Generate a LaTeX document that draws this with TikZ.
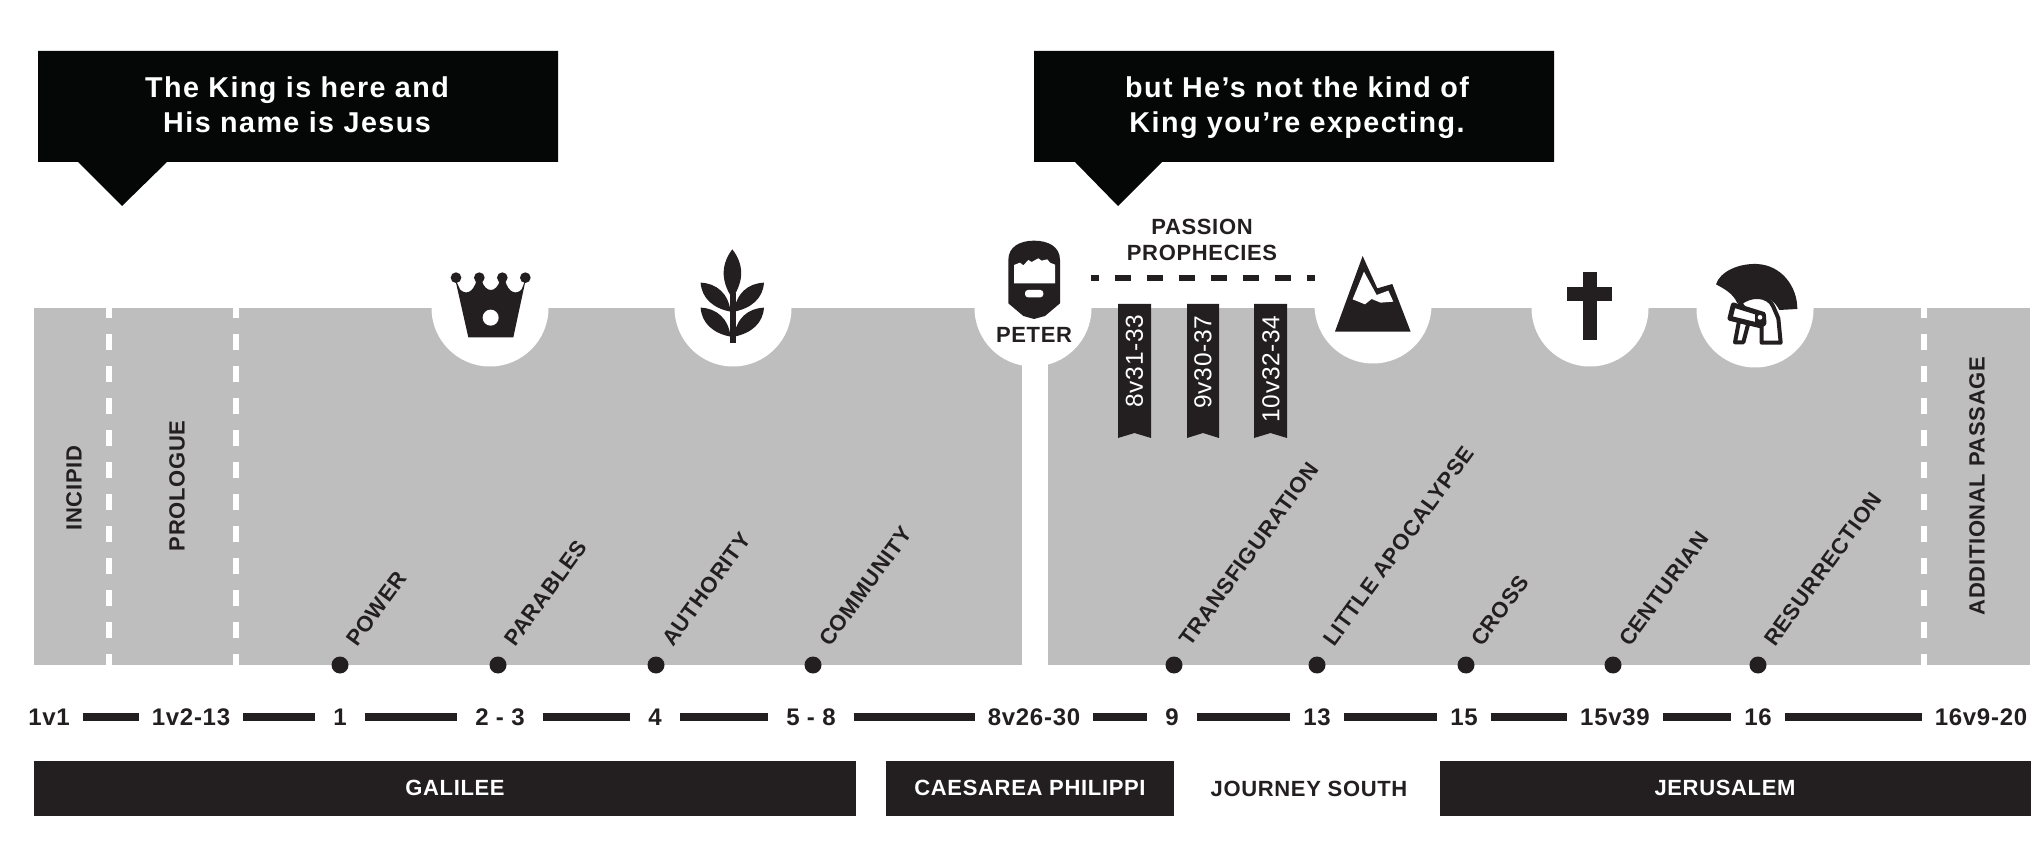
\documentclass[tikz,border=0pt]{standalone}
\usepackage{fontspec}
\setmainfont[LetterSpace=3]{Liberation Sans}
\newfontfamily\calloutfont[LetterSpace=5]{Liberation Sans}
\usepackage{tikz}
\usetikzlibrary{positioning}
\definecolor{inkBlack}{HTML}{231F20}
\definecolor{calloutBlack}{HTML}{050707}
\definecolor{bandGray}{HTML}{BEBEBE}
\newcommand{\fzCallout}{\calloutfont\fontsize{28.7}{35}\selectfont\bfseries}
\newcommand{\fzLabel}{\fontsize{22}{26}\selectfont\bfseries}
\newcommand{\fzVerse}{\fontsize{24}{28}\selectfont\bfseries}
\newcommand{\fzRibbon}{\fontsize{24.5}{28}\selectfont}
\tikzset{TLBand/.style={fill=bandGray}}
\tikzset{TLSlit/.style={draw=white,line width=6.7pt,dash pattern=on 16pt off 16pt,dash phase=6pt}}
\tikzset{TLDot/.style={circle,fill=inkBlack,minimum size=17pt,inner sep=0pt}}
\tikzset{TLDiag/.style={anchor=base west,rotate=54,inner sep=0pt,text=inkBlack,font=\fzLabel}}
\tikzset{TLUp/.style={rotate=90,inner sep=0pt,text=inkBlack,font=\fzLabel}}
\tikzset{TLVerse/.style={inner xsep=13pt,inner ysep=0pt,text=inkBlack,font=\fzVerse}}
\tikzset{TLVerseWide/.style={TLVerse,inner xsep=18pt}}
\tikzset{TLBar/.style={draw=inkBlack,line width=8.5pt}}
\tikzset{TLPlace/.style={fill=inkBlack,text=white,font=\fzLabel,minimum height=55pt,inner sep=0pt}}
\tikzset{TLCircle/.style={circle,fill=white,minimum size=117pt,inner sep=0pt}}
\tikzset{TLRibbon/.style={fill=inkBlack}}
\tikzset{TLIcon/.style={fill=inkBlack}}
\begin{document}
\begin{tikzpicture}[x=1pt,y=-1pt]
\useasboundingbox (0,0) rectangle (2040,858);
\fill [TLBand] (34,308) rectangle (1022,665);
\fill [TLBand] (1048,308) rectangle (2030,665);
\coordinate (slitAtop) at (109,308);
\coordinate (slitAbot) at (109,665);
\coordinate (slitBtop) at (236,308);
\coordinate (slitBbot) at (236,665);
\coordinate (slitCtop) at (1924,308);
\coordinate (slitCbot) at (1924,665);
\draw [TLSlit] (slitAtop) -- (slitAbot);
\draw [TLSlit] (slitBtop) -- (slitBbot);
\draw [TLSlit] (slitCtop) -- (slitCbot);
\node (crownbg) at (490,308) [TLCircle] {};
\node (plantbg) at (733,308) [TLCircle] {};
\node (peterbg) at (1033,308) [TLCircle] {};
\node (mountbg) at (1373,305) [TLCircle] {};
\node (crossbg) at (1590,308) [TLCircle] {};
\node (helmbg) at (1755,309) [TLCircle] {};
\fill [white] (1022,340) rectangle (1048,400);
\fill [calloutBlack] (38,51) -- (558,51) -- (558,162) -- (167,162) -- (122,206) -- (78,162) -- (38,162) -- cycle;
\fill [calloutBlack] (1034,51) -- (1554,51) -- (1554,162) -- (1162,162) -- (1118,206) -- (1075,162) -- (1034,162) -- cycle;
\node (king) at (297,105) [text=white,align=center,inner sep=0pt,font=\fzCallout] {The King is here and\\His name is Jesus};
\node (notking) at (1297,107.5) [text=white,align=center,inner sep=0pt,font=\fzCallout] {but He’s not the kind of\\King you’re expecting.};
\begin{scope}[shift={(400,230)},scale=0.3333]
\fill [TLIcon] (205,322) -- (165,145) -- (180,178) .. controls (195,195) and (220,190) .. (230,150) -- (245,150) .. controls (255,190) and (290,190) .. (300,150) -- (315,150) .. controls (325,190) and (350,195) .. (365,178) -- (378,145) -- (340,322) -- cycle;
\fill [TLIcon] (168,143) circle (16);
\fill [TLIcon] (238,143) circle (16);
\fill [TLIcon] (307,143) circle (16);
\fill [TLIcon] (376,143) circle (16);
\fill [white] (272,263) circle (24);
\fill [TLIcon] (990,190) rectangle (1007,338);
\fill [TLIcon] (997,58) .. controls (1030,100) and (1035,150) .. (997,205) .. controls (960,150) and (965,100) .. (997,58);
\fill [TLIcon] (902,158) .. controls (950,160) and (985,190) .. (992,245) .. controls (940,235) and (905,205) .. (902,158);
\fill [TLIcon] (1092,158) .. controls (1044,160) and (1009,190) .. (1002,245) .. controls (1054,235) and (1089,205) .. (1092,158);
\fill [TLIcon] (902,233) .. controls (950,235) and (985,265) .. (992,320) .. controls (940,310) and (905,280) .. (902,233);
\fill [TLIcon] (1092,233) .. controls (1044,235) and (1009,265) .. (1002,320) .. controls (1054,310) and (1089,280) .. (1092,233);
\end{scope}
\begin{scope}[shift={(960,190)},scale=0.3333]
\fill [TLIcon] (145,210) .. controls (145,170) and (180,152) .. (222,152) .. controls (265,152) and (300,170) .. (300,210) -- (300,340) -- (255,378) -- (222,387) -- (190,378) -- (145,340) -- cycle;
\fill [white] (162,280) -- (162,225) -- (180,218) -- (190,226) -- (205,210) -- (215,216) -- (235,205) -- (245,212) -- (262,208) -- (270,218) -- (285,224) -- (285,280) -- cycle;
\fill [white,rounded corners=3pt] (195,300) rectangle (250,322);
\fill [TLIcon] (1208,198) -- (1252,295) -- (1297,282) -- (1352,425) -- (1125,425) -- cycle;
\fill [white] (1212,245) -- (1250,315) -- (1285,302) -- (1300,335) -- (1262,338) -- (1235,327) -- (1215,343) -- (1178,328) -- cycle;
\end{scope}
\fill [TLIcon] (1583,272) rectangle (1597,340);
\fill [TLIcon] (1567,287) rectangle (1612,301);
\begin{scope}[shift={(1690,255)},scale=0.3333]
\fill [TLIcon] (78,88) .. controls (90,50) and (145,25) .. (200,27) .. controls (275,30) and (322,95) .. (322,162) -- (268,165) .. controls (255,140) and (235,125) .. (205,122) .. controls (180,120) and (160,130) .. (142,145) .. controls (130,115) and (100,100) .. (78,88) -- cycle;
\draw [draw=inkBlack,line width=4pt,fill=white,line join=round] (150,145) .. controls (180,118) and (235,118) .. (250,155) -- (265,190) -- (272,263) -- (215,263) -- (215,210) -- (195,195) -- cycle;
\draw [draw=inkBlack,line width=4pt,fill=white,line join=round] (147,198) -- (175,205) -- (160,262) -- (135,262) -- cycle;
\draw [draw=inkBlack,line width=5pt,fill=white,line join=round] (130,150) -- (220,178) -- (222,205) -- (210,212) -- (120,190) -- cycle;
\fill [TLIcon] (195,170) rectangle (225,207);
\fill [white] (210,187) circle (7);
\end{scope}
\node (peter) at (1034,335) [inner sep=0pt,text=inkBlack,font=\fzLabel] {PETER};
\node (passion) at (1202,240) [inner sep=0pt,text=inkBlack,font=\fzLabel,align=center] {PASSION\\PROPHECIES};
\coordinate (dashL) at (1091,278);
\coordinate (dashR) at (1315,278);
\draw [draw=inkBlack,line width=6pt,dash pattern=on 16pt off 16pt,dash phase=8pt] (dashL) -- (dashR);
\fill [TLRibbon] (1118,304) -- (1151,304) -- (1151,438) -- (1134.5,433) -- (1118,438) -- cycle;
\fill [TLRibbon] (1187,304) -- (1219,304) -- (1219,438) -- (1203,433) -- (1187,438) -- cycle;
\fill [TLRibbon] (1254,304) -- (1287,304) -- (1287,438) -- (1270.5,433) -- (1254,438) -- cycle;
\node (prophA) at (1134.5,361) [rotate=90,text=white,inner sep=0pt,font=\fzRibbon] {8v31-33};
\node (prophB) at (1203,362) [rotate=90,text=white,inner sep=0pt,font=\fzRibbon] {9v30-37};
\node (prophC) at (1271,369) [rotate=90,text=white,inner sep=0pt,font=\fzRibbon] {10v32-34};
\node (incipid) at (74,488) [TLUp] {INCIPID};
\node (prologue) at (177,486) [TLUp] {PROLOGUE};
\node (additional) at (1977,486) [TLUp] {ADDITIONAL PASSAGE};
\node (dPower) at (340,665) [TLDot] {};
\node (dParables) at (498,665) [TLDot] {};
\node (dAuthority) at (656,665) [TLDot] {};
\node (dCommunity) at (813,665) [TLDot] {};
\node (dTransfig) at (1174,665) [TLDot] {};
\node (dApocalypse) at (1317,665) [TLDot] {};
\node (dCross) at (1466,665) [TLDot] {};
\node (dCenturian) at (1613,665) [TLDot] {};
\node (dResurrect) at (1758,665) [TLDot] {};
\node (power) at (357,648) [TLDiag] {POWER};
\node (parables) at (515,648) [TLDiag] {PARABLES};
\node (authority) at (673,648) [TLDiag] {AUTHORITY};
\node (community) at (830,648) [TLDiag] {COMMUNITY};
\node (transfig) at (1190,648) [TLDiag] {TRANSFIGURATION};
\node (apocalypse) at (1334,648) [TLDiag] {LITTLE APOCALYPSE};
\node (cross) at (1482,648) [TLDiag] {CROSS};
\node (centurian) at (1630,648) [TLDiag] {CENTURIAN};
\node (resurrect) at (1775,648) [TLDiag] {RESURRECTION};
\node (vA) at (49,717) [TLVerse] {1v1};
\node (vB) at (191,717) [TLVerse] {1v2-13};
\node (vC) at (340,717) [TLVerseWide] {1};
\node (vD) at (500,717) [TLVerseWide] {2 - 3};
\node (vE) at (655,717) [TLVerseWide] {4};
\node (vF) at (811,717) [TLVerseWide] {5 - 8};
\node (vG) at (1034,717) [TLVerse] {8v26-30};
\node (vH) at (1172,717) [TLVerseWide] {9};
\node (vI) at (1317,717) [TLVerse] {13};
\node (vJ) at (1464,717) [TLVerse] {15};
\node (vK) at (1615,717) [TLVerse] {15v39};
\node (vL) at (1758,717) [TLVerse] {16};
\node (vM) at (1981,717) [TLVerse] {16v9-20};
\draw [TLBar] (vA) -- (vB);
\draw [TLBar] (vB) -- (vC);
\draw [TLBar] (vC) -- (vD);
\draw [TLBar] (vD) -- (vE);
\draw [TLBar] (vE) -- (vF);
\draw [TLBar] (vF) -- (vG);
\draw [TLBar] (vG) -- (vH);
\draw [TLBar] (vH) -- (vI);
\draw [TLBar] (vI) -- (vJ);
\draw [TLBar] (vJ) -- (vK);
\draw [TLBar] (vK) -- (vL);
\draw [TLBar] (vL) -- (vM);
\node (galilee) at (445,788) [TLPlace,minimum width=822pt] {\hspace*{20pt}GALILEE};
\node (caesarea) at (1030,788) [TLPlace,minimum width=288pt] {CAESAREA PHILIPPI};
\node (journey) at (1309,789) [inner sep=0pt,text=inkBlack,font=\fzLabel] {JOURNEY SOUTH};
\node (jerusalem) at (1735.5,788) [TLPlace,minimum width=591pt] {JERUSALEM\hspace*{21pt}};
\end{tikzpicture}
\end{document}
